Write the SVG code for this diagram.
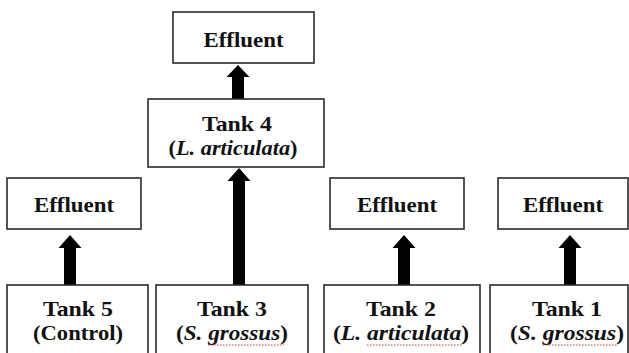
<svg xmlns="http://www.w3.org/2000/svg" width="629" height="353" viewBox="0 0 629 353">
  <style>
    .box { fill: #ffffff; stroke: #2a2a2a; stroke-width: 1.6; }
    .lbl { font-family: "Liberation Serif", "Times New Roman", serif; font-weight: bold; font-size: 21px; fill: #111111; text-anchor: middle; }
    .it { font-style: italic; }
    .arrow { fill: #000000; }
    .squiggle { fill: none; stroke: #e03030; stroke-width: 1; stroke-dasharray: 1.5 1.5; }
  </style>
  <rect width="629" height="353" fill="#ffffff"/>

  <g id="connectors">
    <!-- Tank 4 to top effluent -->
    <polygon class="arrow" points="238,65 249.5,77 244,77 244,99 232,99 232,77 226.5,77"/>
    <!-- Tank 3 to Tank 4 -->
    <polygon class="arrow" points="239,168 250.5,181 245,181 245,285 233,285 233,181 227.5,181"/>
    <!-- Tank 5 to effluent -->
    <polygon class="arrow" points="70,235 81.5,248 76,248 76,285 64,285 64,248 58.5,248"/>
    <!-- Tank 2 to effluent -->
    <polygon class="arrow" points="404,235 415.5,248 410,248 410,285 398,285 398,248 392.5,248"/>
    <!-- Tank 1 to effluent -->
    <polygon class="arrow" points="570,235 581.5,248 576,248 576,285 564,285 564,248 558.5,248"/>
  </g>

  <g id="effluent-top">
    <rect class="box" x="173" y="12" width="141" height="51"/>
    <text class="lbl" x="243.5" y="47" textLength="80" lengthAdjust="spacingAndGlyphs">Effluent</text>
  </g>

  <g id="tank4">
    <rect class="box" x="148" y="99" width="176" height="68"/>
    <text class="lbl" x="237" y="131" textLength="70" lengthAdjust="spacingAndGlyphs">Tank 4</text>
    <text class="lbl" x="233" y="155" textLength="129" lengthAdjust="spacingAndGlyphs">(<tspan class="it">L. articulata</tspan>)</text>
  </g>

  <g id="effluent-5">
    <rect class="box" x="7" y="178" width="134" height="51"/>
    <text class="lbl" x="74" y="212" textLength="80" lengthAdjust="spacingAndGlyphs">Effluent</text>
  </g>

  <g id="effluent-2">
    <rect class="box" x="330" y="178" width="134" height="51"/>
    <text class="lbl" x="397" y="212" textLength="80" lengthAdjust="spacingAndGlyphs">Effluent</text>
  </g>

  <g id="effluent-1">
    <rect class="box" x="498" y="178" width="130" height="51"/>
    <text class="lbl" x="563" y="212" textLength="80" lengthAdjust="spacingAndGlyphs">Effluent</text>
  </g>

  <g id="tank5">
    <rect class="box" x="7" y="285" width="141" height="80"/>
    <text class="lbl" x="78" y="316" textLength="70" lengthAdjust="spacingAndGlyphs">Tank 5</text>
    <text class="lbl" x="78" y="340" textLength="90" lengthAdjust="spacingAndGlyphs">(Control)</text>
  </g>

  <g id="tank3">
    <rect class="box" x="156" y="285" width="152" height="80"/>
    <text class="lbl" x="232" y="316" textLength="70" lengthAdjust="spacingAndGlyphs">Tank 3</text>
    <text class="lbl" x="232" y="340" textLength="112" lengthAdjust="spacingAndGlyphs">(<tspan class="it">S. grossus</tspan>)</text>
    <path class="squiggle" d="M208,345 L284,345"/>
  </g>

  <g id="tank2">
    <rect class="box" x="324" y="285" width="156" height="80"/>
    <text class="lbl" x="401" y="316" textLength="70" lengthAdjust="spacingAndGlyphs">Tank 2</text>
    <text class="lbl" x="401" y="340" textLength="136" lengthAdjust="spacingAndGlyphs">(<tspan class="it">L. articulata</tspan>)</text>
    <path class="squiggle" d="M367,345 L463,345"/>
  </g>

  <g id="tank1">
    <rect class="box" x="490" y="285" width="138" height="80"/>
    <text class="lbl" x="567" y="316" textLength="70" lengthAdjust="spacingAndGlyphs">Tank 1</text>
    <text class="lbl" x="567" y="340" textLength="114" lengthAdjust="spacingAndGlyphs">(<tspan class="it">S. grossus</tspan>)</text>
    <path class="squiggle" d="M543,345 L618,345"/>
  </g>
</svg>
